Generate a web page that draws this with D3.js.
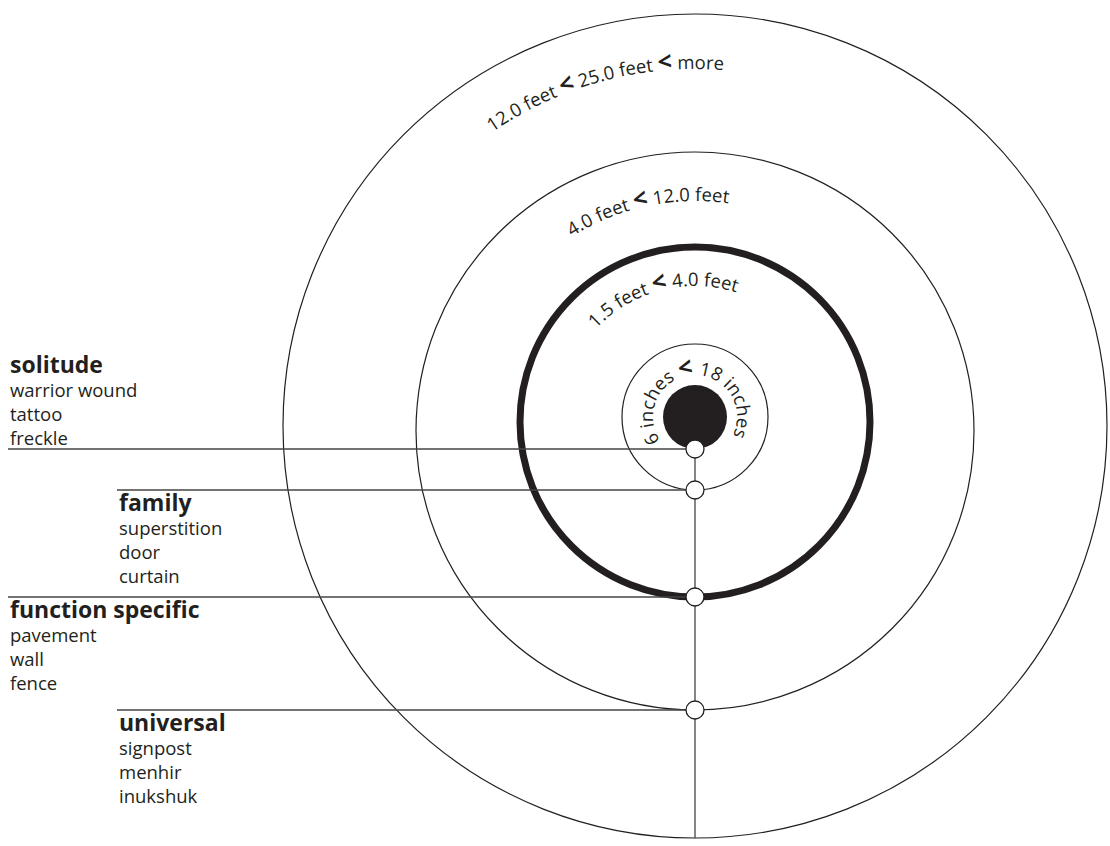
<!DOCTYPE html>
<html>
<head>
<meta charset="utf-8">
<script src="https://cdnjs.cloudflare.com/ajax/libs/d3/7.8.5/d3.min.js"></script>
<style>
    body { margin: 0; background: #fff; }
    svg { display: block; font-family: "Open Sans", sans-serif; }
    .ring { fill: none; stroke: #231f20; stroke-width: 1.2; }
    .ring.thick { stroke-width: 7; }
    .rule { stroke: #444; stroke-width: 1.3; }
    .node { fill: #fff; stroke: #231f20; stroke-width: 1.3; }
    .title { font-weight: 700; font-size: 23px; fill: #231f20; }
    .item { font-size: 18.5px; fill: #231f20; }
    .arc-label { font-size: 18.5px; fill: #231f20; }
    .lt { font-weight: 700; font-size: 25px; }
</style>
</head>
<body>
<div id="chart"></div>
<script>
// distance groups, from closest to farthest
var groups = ["solitude", "family", "function specific", "universal"];
var groupItems = [
    ["warrior wound", "tattoo", "freckle"],
    ["superstition", "door", "curtain"],
    ["pavement", "wall", "fence"],
    ["signpost", "menhir", "inukshuk"]
];
// each ring label is a run of distances joined by "<"
var ringLabels = [
    ["6 inches", "18 inches"],
    ["1.5 feet", "4.0 feet"],
    ["4.0 feet", "12.0 feet"],
    ["12.0 feet", "25.0 feet", "more"]
];

var width = 1110, height = 846, cx = 695;

// rings: the black core, then one ring per label
var rings = ["core", "r1", "r2", "r3", "r4"];
var radius = d3.scaleOrdinal().domain(rings).range([32, 73, 175, 279, 412]);
var centerY = d3.scaleOrdinal().domain(rings).range([417, 417, 422, 431, 426]);
// label baseline radius and the angle (deg from top, clockwise) of its middle
var labelR = d3.scaleOrdinal().domain(rings.slice(1)).range([42, 136, 230, 357]);
var labelMid = d3.scaleOrdinal().domain(rings.slice(1)).range([-4, -14.5, -12, -15]);

// the group lines hang off the bottom of each ring
var lineY = function (i) { return centerY(rings[i]) + radius(rings[i]); };
var lineX = d3.scaleOrdinal().domain(groups).range([8, 117, 8, 117]);

var svg = d3.select("#chart").append("svg")
    .attr("width", width)
    .attr("height", height);

svg.append("circle")
    .attr("cx", cx)
    .attr("cy", centerY("core"))
    .attr("r", radius("core"))
    .attr("fill", "#231f20");

svg.selectAll(".ring")
    .data(rings.slice(1))
    .enter().append("circle")
    .attr("class", function (d) { return d === "r2" ? "ring thick" : "ring"; })
    .attr("cx", cx)
    .attr("cy", function (d) { return centerY(d); })
    .attr("r", function (d) { return radius(d); });

// curved labels
function arcPath(d) {
    var r = labelR(d), cy = centerY(d),
        a0 = -179 * Math.PI / 180, a1 = 179 * Math.PI / 180;
    return "M" + (cx + r * Math.sin(a0)) + "," + (cy - r * Math.cos(a0)) +
        " A" + r + "," + r + " 0 1,1 " + (cx + r * Math.sin(a1)) + "," + (cy - r * Math.cos(a1));
}

var defs = svg.append("defs");
rings.slice(1).forEach(function (d, i) {
    defs.append("path").attr("id", "arc-" + d).attr("d", arcPath(d));

    var tp = svg.append("text")
        .attr("class", "arc-label")
        .append("textPath")
        .attr("href", "#arc-" + d)
        .attr("startOffset", ((labelMid(d) + 179) / 358 * 100) + "%")
        .attr("text-anchor", "middle");

    ringLabels[i].forEach(function (part, j) {
        if (j > 0) {
            tp.append("tspan").text(" ");
            tp.append("tspan").attr("class", "lt").text("<");
            tp.append("tspan").text(" ");
        }
        tp.append("tspan").text(part);
    });
});

// spine down to the outer ring
svg.append("line")
    .attr("class", "rule")
    .attr("x1", cx).attr("x2", cx)
    .attr("y1", lineY(0))
    .attr("y2", lineY(4));

svg.selectAll(".hline")
    .data(groups)
    .enter().append("line")
    .attr("class", "rule hline")
    .attr("x1", function (d) { return lineX(d); })
    .attr("x2", cx)
    .attr("y1", function (d, i) { return lineY(i); })
    .attr("y2", function (d, i) { return lineY(i); });

svg.selectAll(".node")
    .data(groups)
    .enter().append("circle")
    .attr("class", "node")
    .attr("cx", cx)
    .attr("cy", function (d, i) { return lineY(i); })
    .attr("r", 9);

// group text: solitude sits above its line, the rest below
var g = svg.selectAll(".group")
    .data(groups)
    .enter().append("g")
    .attr("class", "group")
    .attr("transform", function (d, i) {
        var y = i === 0 ? lineY(i) - 76 : lineY(i) + 21;
        return "translate(" + (lineX(d) + 2) + "," + y + ")";
    });

g.append("text")
    .attr("class", "title")
    .text(function (d) { return d; });

g.selectAll(".item")
    .data(function (d, i) { return groupItems[i]; })
    .enter().append("text")
    .attr("class", "item")
    .attr("y", function (d, j) { return 24 * (j + 1); })
    .text(function (d) { return d; });
</script>
</body>
</html>
